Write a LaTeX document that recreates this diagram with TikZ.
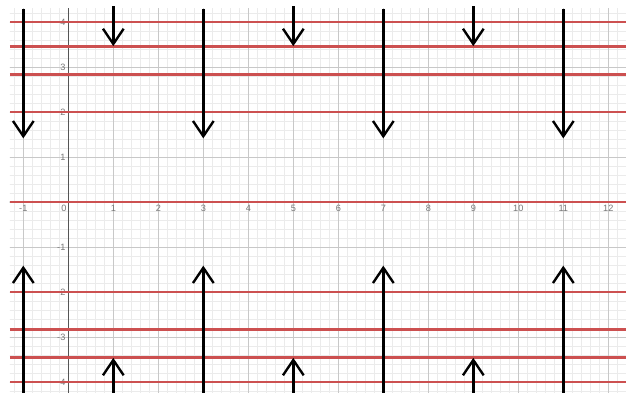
\documentclass[tikz,border=0pt]{standalone}
\usepackage{fontspec}
\setmainfont{Liberation Sans}
\usetikzlibrary{arrows.meta}
\definecolor{dred}{HTML}{CC5050}
\definecolor{minorc}{HTML}{EBEBEB}
\definecolor{majorc}{HTML}{C8C8C8}
\definecolor{axisc}{HTML}{555555}
\definecolor{labc}{HTML}{777777}
\tikzset{
  minorgrid/.style={draw=minorc, line width=0.35pt},
  majorgrid/.style={draw=majorc, line width=0.55pt},
  axisline/.style={draw=axisc, line width=0.7pt},
  redline/.style={draw=dred, line width=1.8pt},
  arr/.style={draw=black, line width=1.9pt, -{Straight Barb[length=3.4mm, width=4.6mm, line width=1.5pt]}},
  xlab/.style={font=\fontsize{5.8}{6}\selectfont, text=labc, inner sep=0.5pt},
  ylab/.style={font=\fontsize{5.8}{6}\selectfont, text=labc, inner sep=0.5pt, anchor=east},
}
\begin{document}
\begin{tikzpicture}[x=1cm,y=1cm]
\useasboundingbox (-1.518,-4.244) rectangle (12.393,4.489);
\begin{scope}
  \clip (-1.296,-4.244) rectangle (12.393,4.311);
  \draw[minorgrid] (-2,-5) grid[step=0.2] (13,5);
  \draw[majorgrid] (-2,-5) grid[step=1] (13,5);
  \draw[axisline] (0,-5) -- (0,5);
  \draw[axisline] (-2,0) -- (13,0);
\end{scope}
% axis labels
\foreach \i in {-1,1,2,3,4,5,6,7,8,9,10,11,12}
  \node[xlab] (xl\i) at (\i,-0.14) {\i};
\node[xlab] (xl0) at (-0.1,-0.14) {0};
\foreach \j in {-4,-3,-2,-1,1,2,3,4}
  \node[ylab] (yl\j) at (-0.04,\j) {\j};
% red horizontal lines
\foreach \y in {0,2,2.8284,3.4641,4,-2,-2.8284,-3.4641,-4}
  \draw[redline] (-1.296,\y) -- (12.393,\y);
% arrows from the top
\foreach \x in {-1,3,7,11} {
  \coordinate (ts\x) at (\x,4.29);
  \coordinate (te\x) at (\x,1.414);
  \draw[arr] (ts\x) -- (te\x);
}
\foreach \x in {1,5,9} {
  \coordinate (ts\x) at (\x,4.35);
  \coordinate (te\x) at (\x,3.4641);
  \draw[arr] (ts\x) -- (te\x);
}
% arrows from the bottom
\foreach \x in {-1,3,7,11} {
  \coordinate (bs\x) at (\x,-4.244);
  \coordinate (be\x) at (\x,-1.414);
  \draw[arr] (bs\x) -- (be\x);
}
\foreach \x in {1,5,9} {
  \coordinate (bs\x) at (\x,-4.244);
  \coordinate (be\x) at (\x,-3.4641);
  \draw[arr] (bs\x) -- (be\x);
}
\end{tikzpicture}
\end{document}
